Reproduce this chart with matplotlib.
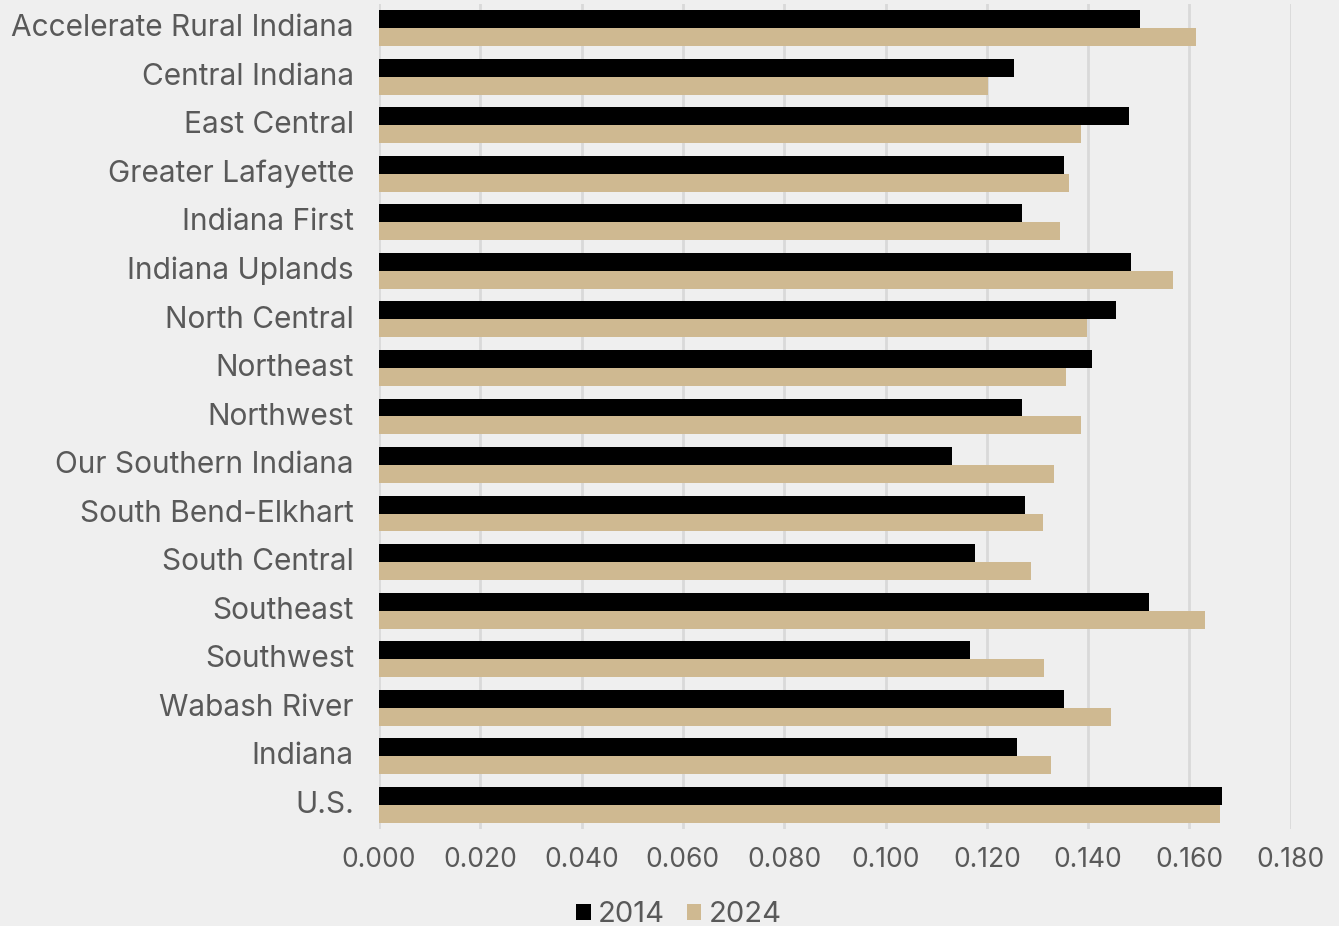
import numpy as np
import matplotlib.pyplot as plt

regions = [
    "Accelerate Rural Indiana", "Central Indiana", "East Central",
    "Greater Lafayette", "Indiana First", "Indiana Uplands", "North Central",
    "Northeast", "Northwest", "Our Southern Indiana", "South Bend-Elkhart",
    "South Central", "Southeast", "Southwest", "Wabash River", "Indiana", "U.S.",
]
vals_2014 = [0.1502, 0.1253, 0.1480, 0.1352, 0.1270, 0.1485, 0.1455, 0.1407,
             0.1270, 0.1131, 0.1275, 0.1176, 0.1520, 0.1166, 0.1352, 0.1260, 0.1664]
vals_2024 = [0.1612, 0.1202, 0.1385, 0.1362, 0.1344, 0.1567, 0.1397, 0.1356,
             0.1385, 0.1332, 0.1311, 0.1287, 0.1630, 0.1312, 0.1445, 0.1326, 0.1660]
xticks = np.arange(0, 0.181, 0.02)

bg = "#efefef"
gold = "#cfb991"
grey = "#595959"

plt.rcParams['font.family'] = ['Inter', 'DejaVu Sans']

fig = plt.figure(figsize=(13.39, 9.26), dpi=100, facecolor=bg)
ax = fig.add_axes([0.283, 0.1048, 0.681, 0.8909], facecolor=bg)

y = np.arange(len(regions))
h = 0.37
ax.barh(y - h / 2, vals_2014, height=h, color="black", label="2014", zorder=3)
ax.barh(y + h / 2, vals_2024, height=h, color=gold, label="2024", zorder=3)

ax.set_ylim(len(regions) - 0.5, -0.5)
ax.set_xlim(0, 0.18)
ax.set_yticks(y - 0.06)
ax.set_yticklabels(regions, fontsize=21.5, color=grey)
ax.set_xticks(xticks)
ax.set_xticklabels([f"{t:.3f}" for t in xticks], fontsize=19, color=grey)
ax.tick_params(axis="y", length=0, pad=18)
ax.tick_params(axis="x", length=0, pad=13)
ax.grid(axis="x", color="#d9d9d9", linewidth=2, zorder=0)
for s in ax.spines.values():
    s.set_visible(False)

fig.legend(loc="lower center", bbox_to_anchor=(0.507, -0.031), ncol=2, frameon=False,
           fontsize=21, labelcolor=grey, handlelength=0.5, handleheight=0.5,
           handletextpad=0.25, columnspacing=0.75)

fig.savefig("out.png", dpi=100, facecolor=bg)
